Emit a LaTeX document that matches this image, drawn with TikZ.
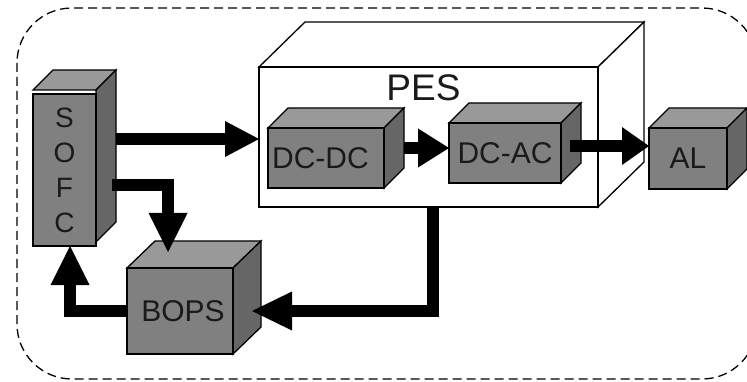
\documentclass[tikz,border=0pt]{standalone}
\usepackage{fontspec}
\setmainfont{Liberation Sans}
\usetikzlibrary{arrows.meta,calc}
\definecolor{frontgray}{HTML}{808080}
\definecolor{topgray}{HTML}{999999}
\definecolor{sidegray}{HTML}{666666}
\definecolor{textdark}{HTML}{1A1A1A}
\newcommand\mycuboid[9]{%
  \filldraw[topface] (#2,#3) -- ++(#6,-#7) -- ({#4+#6},{#3-#7}) -- (#4,#3) -- cycle;
  \filldraw[sideface] (#4,#3) -- ++(#6,-#7) -- ({#4+#6},{#5-#7}) -- (#4,#5) -- cycle;
  \node[frontface, minimum width={(#4-#2)*1pt}, minimum height={(#5-#3)*1pt}, #8] (#1) at ({(#2+#4)/2},{(#3+#5)/2}) {#9};
}
\tikzset{
  edge/.style={draw=black, line width=1.3pt},
  topface/.style={edge, fill=topgray},
  sideface/.style={edge, fill=sidegray},
  frontface/.style={edge, fill=frontgray, rectangle, inner sep=0pt, outer sep=0pt, text=textdark},
  bigarrow/.style 2 args={draw=black, line width=12.5pt, line join=miter,
    -{Triangle[length=#1pt,width=#2pt,line width=0pt]}},
  border/.style={draw=black, line width=1.3pt, dash pattern=on 9pt off 5pt, rounded corners=55pt},
  labelfont/.style={font=\fontsize{#1}{#1}\selectfont, text=textdark}
}
\begin{document}
\begin{tikzpicture}[x=1pt,y=-1pt]
\useasboundingbox (0,0) rectangle (747,382);
\draw[border] (17,8) rectangle (757,379);

% PES enclosure (white wireframe)
\begin{scope}[topface/.style={edge, fill=white}, sideface/.style={edge, fill=white},
  frontface/.style={edge, fill=white, rectangle, inner sep=0pt, outer sep=0pt}]
\mycuboid{pes}{259}{67}{598}{207}{46}{45}{}{}
\end{scope}
\node[labelfont=37] (peslabel) at (423.5,88) {PES};

% grey blocks
\mycuboid{sofc}{33}{90}{96}{242}{20}{20}{align=center, font=\fontsize{28}{35}\selectfont, yshift=-4pt}{S\\O\\F\\C}
\mycuboid{dcdc}{268}{128}{384}{188}{20}{20}{labelfont=30, text width=116pt, align=center, xshift=0pt}{\hspace*{-11pt}\raisebox{-3pt}{DC-DC}}
\mycuboid{dcac}{449}{123}{561}{183}{20}{20}{labelfont=30}{DC-AC}
\mycuboid{al}{649}{128}{727}{189}{20}{20}{labelfont=30}{AL}
\mycuboid{bops}{127}{268}{233}{354}{28}{27}{labelfont=30}{\hspace*{6pt}BOPS}

% connectors
\coordinate (p1) at (116,139);
\draw[bigarrow={34}{36}] (p1) -- (p1 -| pes.west);

\coordinate (p2) at (112,185);
\coordinate (c2) at (168,185);
\coordinate (t2) at (168,252);
\draw[bigarrow={39}{39}] (p2) -- (c2) -- (t2);

\coordinate (c3) at (70,311);
\draw[bigarrow={39}{39}] (bops.west) -- (c3) -- (c3 |- sofc.south);

\coordinate (c4) at (433,311);
\coordinate (t4) at (252,311);
\draw[bigarrow={40}{39}] (c4 |- pes.south) -- (c4) -- (t4);

\coordinate (p5) at (404,148);
\draw[bigarrow={31}{39}] (p5) -- (p5 -| dcac.west);

\coordinate (p6) at (570,146);
\draw[bigarrow={27}{38}] (p6) -- (p6 -| al.west);
\end{tikzpicture}
\end{document}
